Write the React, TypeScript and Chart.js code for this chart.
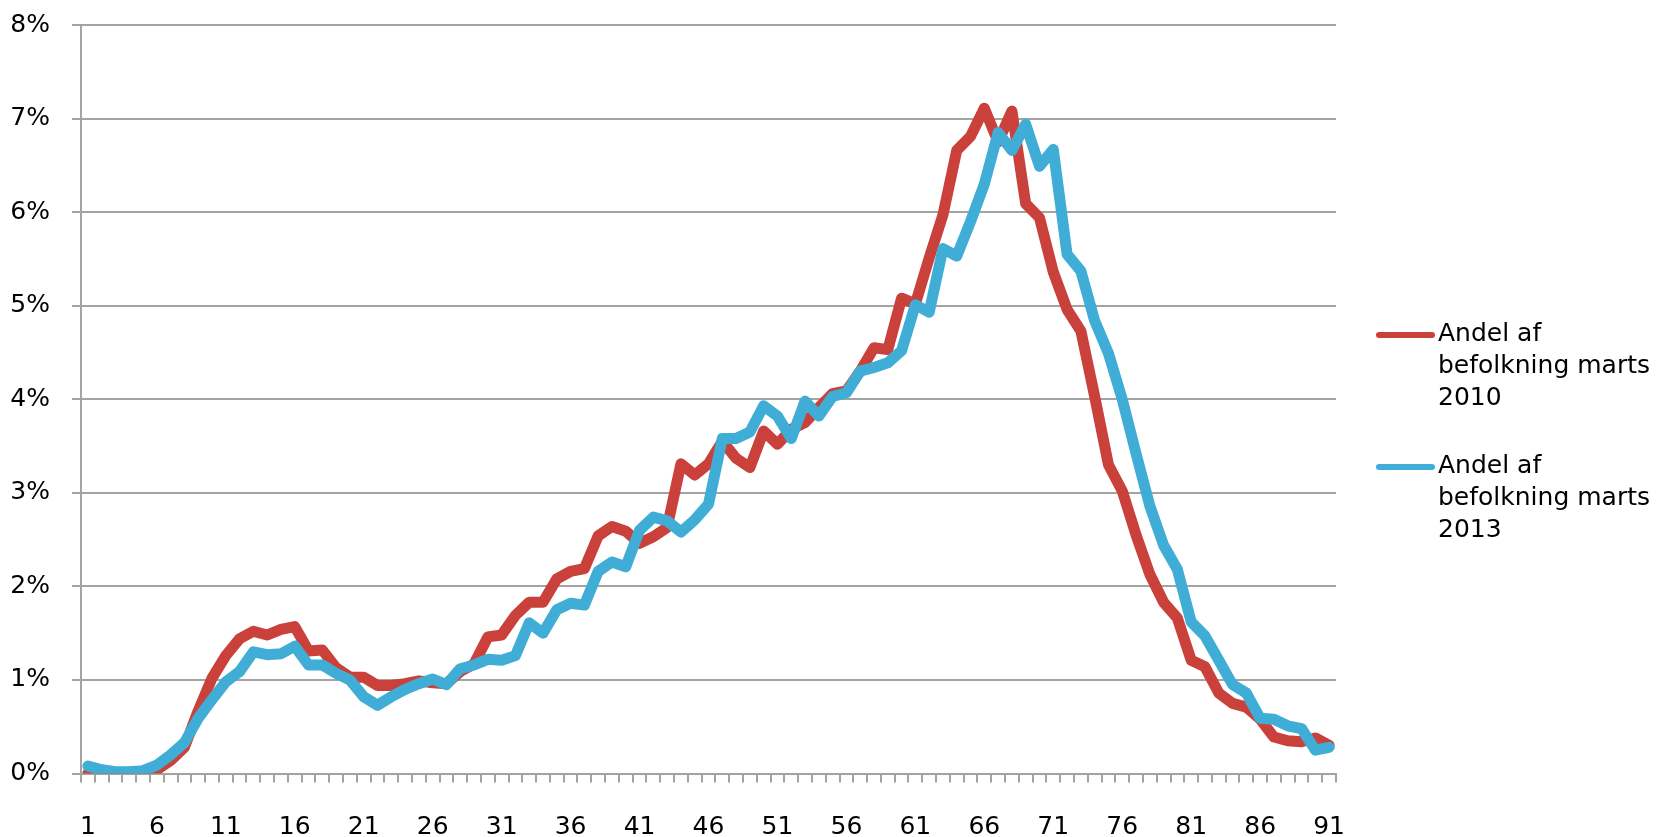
import React, { useEffect, useRef } from "react";
import { Chart, registerables } from "chart.js";

Chart.register(...registerables);

// Categories: age 1..91
const ages: string[] = Array.from({ length: 91 }, (_, i) => String(i + 1));

// Tick labels shown on the x axis
const xTickLabels: string[] = ["1", "6", "11", "16", "21", "26", "31", "36", "41", "46", "51", "56", "61", "66", "71", "76", "81", "86", "91"];

// Andel af befolkning marts 2010 (%)
const share2010: number[] = [
  0.0, 0.0, 0.0, 0.01, 0.02, 0.04, 0.14, 0.28, 0.67, 1.02,
  1.26, 1.44, 1.52, 1.48, 1.54, 1.57, 1.31, 1.32, 1.13, 1.03,
  1.03, 0.94, 0.94, 0.96, 0.99, 0.97, 0.96, 1.09, 1.17, 1.46,
  1.48, 1.69, 1.83, 1.83, 2.08, 2.16, 2.19, 2.54, 2.64, 2.59,
  2.46, 2.53, 2.63, 3.31, 3.19, 3.31, 3.55, 3.37, 3.27, 3.66,
  3.52, 3.68, 3.75, 3.91, 4.06, 4.09, 4.3, 4.55, 4.53, 5.08,
  5.02, 5.51, 5.97, 6.66, 6.81, 7.11, 6.75, 7.08, 6.09, 5.94,
  5.36, 4.96, 4.73, 4.03, 3.3, 3.02, 2.55, 2.13, 1.83, 1.66,
  1.21, 1.14, 0.86, 0.75, 0.71, 0.58, 0.39, 0.35, 0.34, 0.38, 0.3,
];

// Andel af befolkning marts 2013 (%)
const share2013: number[] = [
  0.08, 0.04, 0.02, 0.02, 0.03, 0.09, 0.2, 0.33, 0.59, 0.79,
  0.98, 1.09, 1.3, 1.27, 1.28, 1.36, 1.16, 1.16, 1.07, 1.0,
  0.82, 0.73, 0.82, 0.9, 0.96, 1.01, 0.95, 1.12, 1.16, 1.22,
  1.21, 1.26, 1.61, 1.5, 1.75, 1.82, 1.8, 2.16, 2.26, 2.21,
  2.6, 2.74, 2.7, 2.58, 2.71, 2.88, 3.58, 3.58, 3.65, 3.93,
  3.82, 3.58, 3.98, 3.82, 4.03, 4.07, 4.3, 4.34, 4.39, 4.52,
  5.01, 4.93, 5.61, 5.53, 5.9, 6.3, 6.85, 6.66, 6.94, 6.49,
  6.67, 5.55, 5.37, 4.84, 4.49, 4.0, 3.42, 2.86, 2.44, 2.18,
  1.62, 1.47, 1.21, 0.95, 0.86, 0.59, 0.58, 0.51, 0.48, 0.25, 0.28,
];

const seriesLabels: string[] = ["Andel af befolkning marts 2010", "Andel af befolkning marts 2013"];
const legendLines: string[][] = [
  ["Andel af", "befolkning marts", "2010"],
  ["Andel af", "befolkning marts", "2013"],
];

const RED = "#C9413A";
const BLUE = "#40ADD7";
const GRID = "#A3A3A3";
const FONT = '"DejaVu Sans", sans-serif';

const sideLegend = {
  id: "sideLegend",
  afterDraw(chart: any) {
    const { ctx, chartArea } = chart;
    ctx.save();
    ctx.font = `25px ${FONT}`;
    ctx.fillStyle = "#000";
    ctx.textBaseline = "alphabetic";
    ctx.textAlign = "left";
    chart.data.datasets.forEach((ds: any, di: number) => {
      const y0 = chartArea.top + 310 + di * 132;
      ctx.strokeStyle = ds.borderColor;
      ctx.lineWidth = 6;
      ctx.lineCap = "round";
      ctx.beginPath();
      ctx.moveTo(chartArea.right + 43, y0);
      ctx.lineTo(chartArea.right + 96, y0);
      ctx.stroke();
      legendLines[di].forEach((line, li) => {
        ctx.fillText(line, chartArea.right + 102, y0 + 6 + li * 32);
      });
    });
    ctx.restore();
  },
};

export default function App() {
  const ref = useRef<HTMLCanvasElement>(null);
  useEffect(() => {
    if (!ref.current) return;
    const chart = new Chart(ref.current, {
      type: "line",
      data: {
        labels: ages,
        datasets: [
          {
            label: seriesLabels[0],
            data: share2010,
            borderColor: RED,
            backgroundColor: RED,
            borderWidth: 11,
            pointRadius: 0,
            tension: 0,
            borderJoinStyle: "round",
            borderCapStyle: "round",
            order: 1,
          },
          {
            label: seriesLabels[1],
            data: share2013,
            borderColor: BLUE,
            backgroundColor: BLUE,
            borderWidth: 11,
            pointRadius: 0,
            tension: 0,
            borderJoinStyle: "round",
            borderCapStyle: "round",
            order: 0,
          },
        ],
      },
      options: {
        animation: false,
        responsive: true,
        maintainAspectRatio: false,
        layout: { padding: { top: 9, right: 335, left: 0, bottom: 0 } },
        plugins: {
          legend: { display: false },
          title: { display: false },
          tooltip: { enabled: false },
        },
        scales: {
          x: {
            type: "category",
            offset: true,
            grid: {
              offset: true,
              drawOnChartArea: false,
              drawTicks: true,
              tickLength: 9,
              color: GRID,
              lineWidth: 2,
            },
            border: { display: true, color: GRID, width: 2 },
            ticks: {
              autoSkip: false,
              maxRotation: 0,
              minRotation: 0,
              padding: 30,
              color: "#000",
              font: { family: FONT, size: 25 },
              callback: (_v: any, index: number) =>
                xTickLabels.includes(ages[index]) ? ages[index] : "",
            },
            afterFit: (scale: any) => {
              scale.height = 63.5;
            },
          },
          y: {
            min: 0,
            max: 8,
            grid: {
              color: GRID,
              lineWidth: 2,
              drawTicks: true,
              tickLength: 9,
            },
            border: { display: true, color: GRID, width: 2 },
            ticks: {
              stepSize: 1,
              padding: 22,
              color: "#000",
              font: { family: FONT, size: 25 },
              callback: (v: any) => `${v}%`,
            },
            afterFit: (scale: any) => {
              scale.width = 81;
            },
          },
        },
      },
      plugins: [sideLegend],
    });
    return () => chart.destroy();
  }, []);
  return (
    <div style={{ position: "fixed", left: 0, top: -12, width: 1671, height: 849, background: "#fff" }}>
      <canvas ref={ref} />
    </div>
  );
}
